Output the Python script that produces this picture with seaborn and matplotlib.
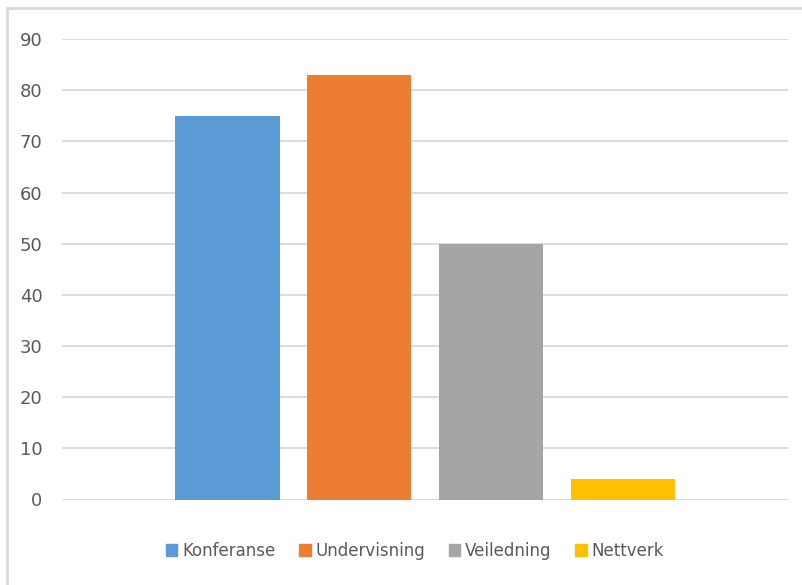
import pandas as pd
import seaborn as sns
import matplotlib.pyplot as plt
from matplotlib.patches import Rectangle

kategorier = ["Konferanse", "Undervisning", "Veiledning", "Nettverk"]
verdier = [75, 83, 50, 4]
farger = ["#5B9BD5", "#ED7D31", "#A5A5A5", "#FFC000"]
y_ticks = [0, 10, 20, 30, 40, 50, 60, 70, 80, 90]

sns.set_style("white")
plt.rcParams['font.family'] = ['Liberation Sans Narrow', 'DejaVu Sans']

df = pd.DataFrame({"kategori": kategorier, "verdi": verdier})

fig = plt.figure(figsize=(8.02, 5.85), dpi=100)
ax = fig.add_axes([62 / 802, 1 - 499.5 / 585, (788 - 62) / 802, (499.5 - 39) / 585])

sns.barplot(data=df, x="kategori", y="verdi", hue="kategori",
            palette=farger, width=0.79, legend=False, ax=ax, saturation=1,
            linewidth=0)

ax.set_ylim(0, 90)
ax.set_xlim(-1.254, 4.25)
ax.set_yticks(y_ticks)
ax.set_yticklabels([str(t) for t in y_ticks], fontsize=13, color="#595959")
ax.set_xticks([])
ax.set_xlabel("")
ax.set_ylabel("")
ax.tick_params(axis="y", length=0, pad=14)
ax.yaxis.grid(True, color="#D9D9D9", linewidth=1.3)
ax.set_axisbelow(True)
for s in ax.spines.values():
    s.set_visible(False)

handles = [plt.Rectangle((0, 0), 1, 1, color=c) for c in farger]
fig.legend(handles, kategorier, loc="center", bbox_to_anchor=(415 / 802, 1 - 551 / 585),
           ncol=4, frameon=False, fontsize=12, handlelength=0.7, handleheight=0.7,
           handletextpad=0.3, columnspacing=1.4, labelcolor="#595959")

fig.patches.append(Rectangle((7 / 802, -0.05), 1.1, 1 - 8 / 585 + 0.05,
                             transform=fig.transFigure, fill=False,
                             edgecolor="#D9D9D9", linewidth=2))

fig.savefig("out.png", dpi=100)
